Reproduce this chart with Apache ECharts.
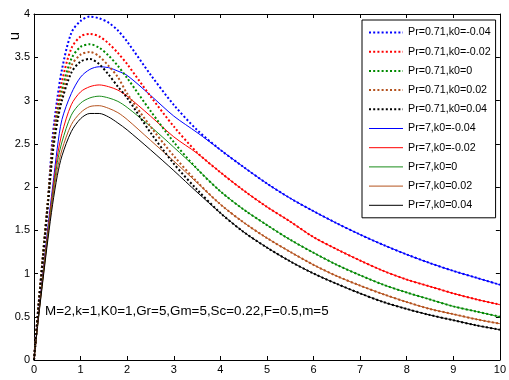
<!DOCTYPE html>
<html>
<head>
<meta charset="utf-8">
<script src="https://cdn.jsdelivr.net/npm/echarts@6/dist/echarts.min.js"></script>
<style>html,body{margin:0;padding:0;background:#fff}#c{width:509px;height:380px}</style>
</head>
<body>
<div id="c"></div>
<script>
// x positions (eta)
const xs = [0,0.1,0.2,0.3,0.4,0.5,0.6,0.8,1.0,1.2,1.4,1.6,1.8,2.0,2.5,3.0,3.5,4.0,4.5,5,5.5,6,6.5,7,7.5,8,8.5,9,9.5,10];

// Pr=0.71 (dotted)
const pr071_km004 = [0,0.65,1.25,1.85,2.58,3.02,3.36,3.78,3.92,3.97,3.95,3.90,3.81,3.68,3.30,2.95,2.66,2.43,2.23,2.04,1.87,1.72,1.58,1.45,1.33,1.22,1.12,1.03,0.95,0.87];
const pr071_km002 = [0,0.65,1.25,1.85,2.50,2.92,3.22,3.60,3.74,3.77,3.74,3.66,3.55,3.42,3.05,2.70,2.40,2.17,1.96,1.77,1.60,1.42,1.28,1.15,1.03,0.93,0.85,0.77,0.70,0.64];
const pr071_k0   = [0,0.65,1.25,1.85,2.45,2.85,3.12,3.48,3.62,3.65,3.61,3.52,3.40,3.26,2.88,2.52,2.21,1.95,1.74,1.56,1.39,1.24,1.10,0.98,0.87,0.78,0.70,0.62,0.56,0.50];
const pr071_kp002 = [0,0.64,1.24,1.83,2.42,2.80,3.06,3.40,3.53,3.56,3.51,3.40,3.27,3.08,2.70,2.36,2.06,1.80,1.59,1.41,1.25,1.10,0.97,0.86,0.76,0.67,0.59,0.53,0.47,0.42];
const pr071_kp004 = [0,0.63,1.22,1.80,2.38,2.75,3.00,3.32,3.45,3.48,3.42,3.30,3.16,3.03,2.63,2.27,1.97,1.70,1.48,1.30,1.14,1.00,0.88,0.77,0.67,0.59,0.52,0.46,0.40,0.35];

// Pr=7 (solid)
const pr7_km004 = [0,0.55,1.05,1.55,2.00,2.45,2.78,3.08,3.27,3.36,3.39,3.38,3.34,3.29,3.06,2.82,2.63,2.43,2.23,2.04,1.87,1.72,1.58,1.45,1.33,1.22,1.12,1.03,0.95,0.87];
const pr7_km002 = [0,0.53,1.02,1.50,1.95,2.35,2.62,2.95,3.10,3.16,3.18,3.16,3.12,3.05,2.82,2.58,2.39,2.17,1.96,1.77,1.60,1.42,1.28,1.15,1.03,0.93,0.85,0.77,0.70,0.64];
const pr7_k0    = [0,0.52,1.00,1.47,1.90,2.28,2.52,2.83,2.97,3.03,3.05,3.03,2.99,2.92,2.70,2.46,2.21,1.95,1.74,1.56,1.39,1.24,1.10,0.98,0.87,0.78,0.70,0.62,0.56,0.50];
const pr7_kp002 = [0,0.51,0.98,1.44,1.86,2.20,2.43,2.72,2.86,2.93,2.94,2.91,2.86,2.78,2.54,2.30,2.05,1.80,1.59,1.41,1.25,1.10,0.97,0.86,0.76,0.67,0.59,0.53,0.47,0.42];
const pr7_kp004 = [0,0.50,0.96,1.40,1.80,2.13,2.36,2.64,2.79,2.85,2.85,2.81,2.74,2.66,2.43,2.19,1.94,1.70,1.48,1.30,1.14,1.00,0.88,0.77,0.67,0.59,0.52,0.46,0.40,0.35];

const names = ['Pr=0.71,k0=-0.04','Pr=0.71,k0=-0.02','Pr=0.71,k0=0','Pr=0.71,k0=0.02','Pr=0.71,k0=0.04',
               'Pr=7,k0=-0.04','Pr=7,k0=-0.02','Pr=7,k0=0','Pr=7,k0=0.02','Pr=7,k0=0.04'];
const values = [pr071_km004,pr071_km002,pr071_k0,pr071_kp002,pr071_kp004,pr7_km004,pr7_km002,pr7_k0,pr7_kp002,pr7_kp004];
const colors = ['#0000ff','#ff0000','#008a00','#b4521e','#000000','#0000ff','#ff0000','#1a8c1a','#b4521e','#000000'];
const annotation = 'M=2,k=1,K0=1,Gr=5,Gm=5,Sc=0.22,F=0.5,m=5';

const FONT = '"Liberation Sans", Arial, sans-serif';
const axisCommon = {
  type:'value',
  axisLine:{show:true,onZero:false,lineStyle:{color:'#000',width:1}},
  axisTick:{show:true,inside:true,length:4,lineStyle:{color:'#000'}},
  splitLine:{show:false}
};

const series = names.map((n,i)=>({
  name:n, type:'line', xAxisIndex:0, yAxisIndex:0,
  data: xs.map((x,j)=>[x, values[i][j]]),
  smooth:0.3, symbol:'none', showSymbol:false,
  lineStyle: i<5 ? {color:colors[i],width:2,type:[2,2.2],cap:'butt'} : {color:colors[i],width:1,type:'solid'},
  itemStyle:{color:colors[i]},
  z: i<5 ? 3 : 2
}));

const chart = echarts.init(document.getElementById('c'), null, {renderer:'canvas'});
chart.setOption({
  animation:false,
  backgroundColor:'#fff',
  grid:{left:34,right:6,top:14,bottom:20},
  xAxis:[
    Object.assign({},axisCommon,{position:'bottom',min:0,max:10,interval:1,
      axisLabel:{color:'#000',fontSize:11,fontFamily:FONT,margin:4}}),
    Object.assign({},axisCommon,{position:'top',min:0,max:10,interval:1,axisLabel:{show:false}})
  ],
  yAxis:[
    Object.assign({},axisCommon,{position:'left',min:0,max:4,interval:0.5,
      axisLabel:{color:'#000',fontSize:11,fontFamily:FONT,margin:4}}),
    Object.assign({},axisCommon,{position:'right',min:0,max:4,interval:0.5,axisLabel:{show:false}})
  ],
  legend:{
    orient:'vertical', left:362, top:20,
    itemWidth:34, itemHeight:10, itemGap:8.2,
    padding:[7,5,7,6],
    borderColor:'#000', borderWidth:1, backgroundColor:'#fff',
    itemStyle:{color:'rgba(0,0,0,0)', borderColor:'rgba(0,0,0,0)', borderWidth:0, opacity:0},
    lineStyle:{width:'inherit'},
    textStyle:{fontSize:10.7,fontFamily:FONT,color:'#000'},
    data:names
  },
  graphic:[
    {type:'text', x:15, y:36, rotation:Math.PI/2,
     style:{text:'u', font:'15px '+FONT, fill:'#000', align:'center', verticalAlign:'middle'}},
    {type:'text', x:45, y:311,
     style:{text:annotation, font:'13.4px '+FONT, fill:'#000', align:'left', verticalAlign:'middle'}}
  ],
  series:series
});
</script>
</body>
</html>
